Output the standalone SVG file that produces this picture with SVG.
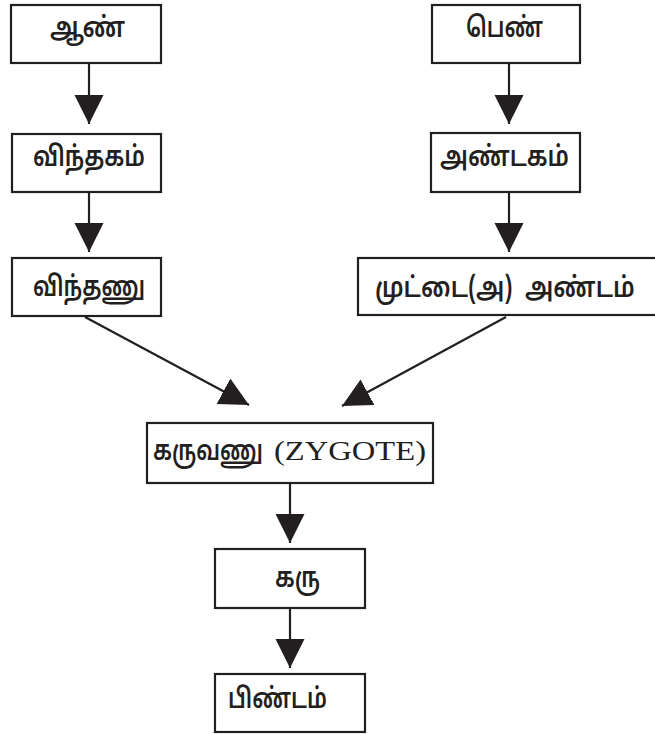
<svg xmlns="http://www.w3.org/2000/svg" width="655" height="734" viewBox="0 0 655 734">
<style>
.box{fill:#fff;stroke:#231f20;stroke-width:2.2}
.t{font-family:"Noto Sans Tamil","Noto Serif Tamil","Lohit Tamil","Noto Sans",sans-serif;font-size:28px;font-weight:600;fill:#231f20}
.r{font-family:"Liberation Serif","Times New Roman",serif;font-size:28px;font-weight:normal;fill:#231f20}
.c{fill:none;stroke:#231f20;stroke-width:2.2}
</style>
<defs>
<marker id="ah" markerUnits="userSpaceOnUse" markerWidth="30" markerHeight="30" viewBox="0 0 30 30" refX="29" refY="14.5" orient="auto">
<path d="M0,0 L29,14.5 L0,29 Z" fill="#231f20"/>
</marker>
</defs>
<rect width="655" height="734" fill="#fff"/>
<g id="connectors">
<line class="c" x1="89" y1="63" x2="89" y2="124" marker-end="url(#ah)"/>
<line class="c" x1="89" y1="192" x2="89" y2="252" marker-end="url(#ah)"/>
<line class="c" x1="509" y1="63" x2="509" y2="124" marker-end="url(#ah)"/>
<line class="c" x1="509" y1="192" x2="509" y2="252" marker-end="url(#ah)"/>
<line class="c" x1="85" y1="317" x2="249" y2="405" marker-end="url(#ah)"/>
<line class="c" x1="506" y1="317" x2="342" y2="406" marker-end="url(#ah)"/>
<line class="c" x1="290" y1="483" x2="290" y2="543" marker-end="url(#ah)"/>
<line class="c" x1="290" y1="608" x2="290" y2="668" marker-end="url(#ah)"/>
</g>
<g id="aan">
<rect class="box" x="11" y="5" width="150" height="58"/>
<text class="t" x="50" y="37" textLength="75" lengthAdjust="spacingAndGlyphs">ஆண்</text>
</g>
<g id="pen">
<rect class="box" x="432" y="5" width="148" height="58"/>
<text class="t" x="466" y="37" textLength="77" lengthAdjust="spacingAndGlyphs">பெண்</text>
</g>
<g id="vinthagam">
<rect class="box" x="12" y="134" width="149" height="58"/>
<text class="t" x="33" y="166" textLength="112" lengthAdjust="spacingAndGlyphs">விந்தகம்</text>
</g>
<g id="andagam">
<rect class="box" x="431" y="133" width="149" height="59"/>
<text class="t" x="440" y="166" textLength="129" lengthAdjust="spacingAndGlyphs">அண்டகம்</text>
</g>
<g id="vinthanu">
<rect class="box" x="12" y="258" width="149" height="58"/>
<text class="t" x="33" y="296" textLength="112" lengthAdjust="spacingAndGlyphs">விந்தணு</text>
</g>
<g id="muttai">
<rect class="box" x="358" y="258" width="300" height="57"/>
<text class="t" transform="translate(375,297) scale(0.86,1)" textLength="302" lengthAdjust="spacingAndGlyphs" xml:space="preserve">முட்டை(அ)  அண்டம்</text>
</g>
<g id="karuvanu">
<rect class="box" x="147" y="423" width="286" height="60"/>
<text class="t" transform="translate(153,460) scale(0.78,1)" textLength="141" lengthAdjust="spacingAndGlyphs">கருவணு</text>
<text class="r" x="274" y="460" textLength="152" lengthAdjust="spacingAndGlyphs">(ZYGOTE)</text>
</g>
<g id="karu">
<rect class="box" x="215" y="549" width="150" height="59"/>
<text class="t" x="275" y="587" textLength="45" lengthAdjust="spacingAndGlyphs">கரு</text>
</g>
<g id="pindam">
<rect class="box" x="215" y="674" width="150" height="58"/>
<text class="t" x="228" y="708" textLength="99" lengthAdjust="spacingAndGlyphs">பிண்டம்</text>
</g>
</svg>
